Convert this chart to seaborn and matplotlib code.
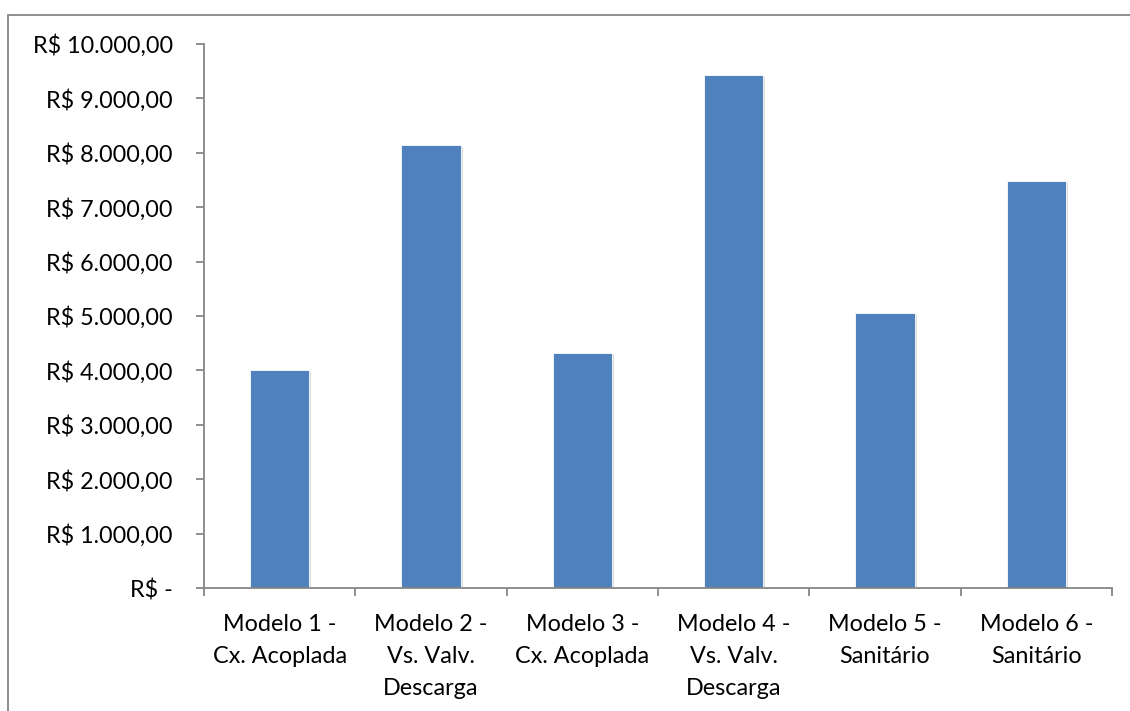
import matplotlib
matplotlib.use("Agg")
import matplotlib.pyplot as plt
import matplotlib.patheffects as pe
from matplotlib.patches import Rectangle
import seaborn as sns
import pandas as pd

# Custo por modelo de bacia sanitária
categorias = [
    "Modelo 1 -\nCx. Acoplada",
    "Modelo 2 -\nVs. Valv.\nDescarga",
    "Modelo 3 -\nCx. Acoplada",
    "Modelo 4 -\nVs. Valv.\nDescarga",
    "Modelo 5 -\nSanitário",
    "Modelo 6 -\nSanitário",
]
custos = [4000, 8140, 4320, 9430, 5060, 7480]
ticks_y = [0, 1000, 2000, 3000, 4000, 5000, 6000, 7000, 8000, 9000, 10000]


def moeda(v):
    if v == 0:
        return "R$ -"
    s = f"{v:,.2f}".replace(",", "X").replace(".", ",").replace("X", ".")
    return f"R$ {s}"


sns.set_theme(style="white")
plt.rcParams["font.family"] = ["Lato", "DejaVu Sans"]

W, H = 1130, 711
fig = plt.figure(figsize=(W / 100, H / 100), dpi=100)
fig.patch.set_facecolor("white")

# moldura do gráfico
fig.add_artist(Rectangle((8 / W, -0.01), 1.2, 1 - 15 / H + 0.01,
                         transform=fig.transFigure, fill=False,
                         edgecolor="#868686", linewidth=1.3))

ax = fig.add_axes([204 / W, 1 - 588 / H, (1112 - 204) / W, (588 - 44) / H])

df = pd.DataFrame({"categoria": categorias, "custo": custos})
sns.barplot(data=df, x="categoria", y="custo", color="#4F81BD", saturation=1,
            width=0.39, ax=ax, edgecolor="white", linewidth=0.6)

for p in ax.patches:
    p.set_path_effects([
        pe.SimplePatchShadow(offset=(1.5, -1.5), shadow_rgbFace="#9a9a9a", alpha=0.35),
        pe.Normal(),
    ])

ax.set_ylim(0, 10000)
ax.set_xlim(-0.5, len(categorias) - 0.5)
ax.set_yticks(ticks_y)
ax.set_yticklabels([moeda(v) for v in ticks_y])
ax.set_xlabel("")
ax.set_ylabel("")

# marcas do eixo x nas divisões entre categorias
ax.set_xticks([i - 0.5 for i in range(len(categorias) + 1)], minor=False)
ax.set_xticklabels([])
ax.set_xticks(range(len(categorias)), minor=True)
ax.set_xticklabels(categorias, minor=True)

for s in ["top", "right"]:
    ax.spines[s].set_visible(False)
for s in ["left", "bottom"]:
    ax.spines[s].set_color("#868686")
    ax.spines[s].set_linewidth(1.3)

FS = 16.8
ax.tick_params(axis="y", which="major", direction="out", length=5.5, width=1.3,
               color="#868686", labelsize=FS, labelcolor="black", pad=17, left=True)
ax.tick_params(axis="x", which="major", direction="out", length=5.5, width=1.3,
               color="#868686", bottom=True)
ax.tick_params(axis="x", which="minor", length=0, labelsize=FS,
               labelcolor="black", pad=18.5)
for t in ax.get_xticklabels(minor=True):
    t.set_linespacing(1.67)
    t.set_verticalalignment("top")

fig.savefig("out.png", dpi=100, facecolor="white")
